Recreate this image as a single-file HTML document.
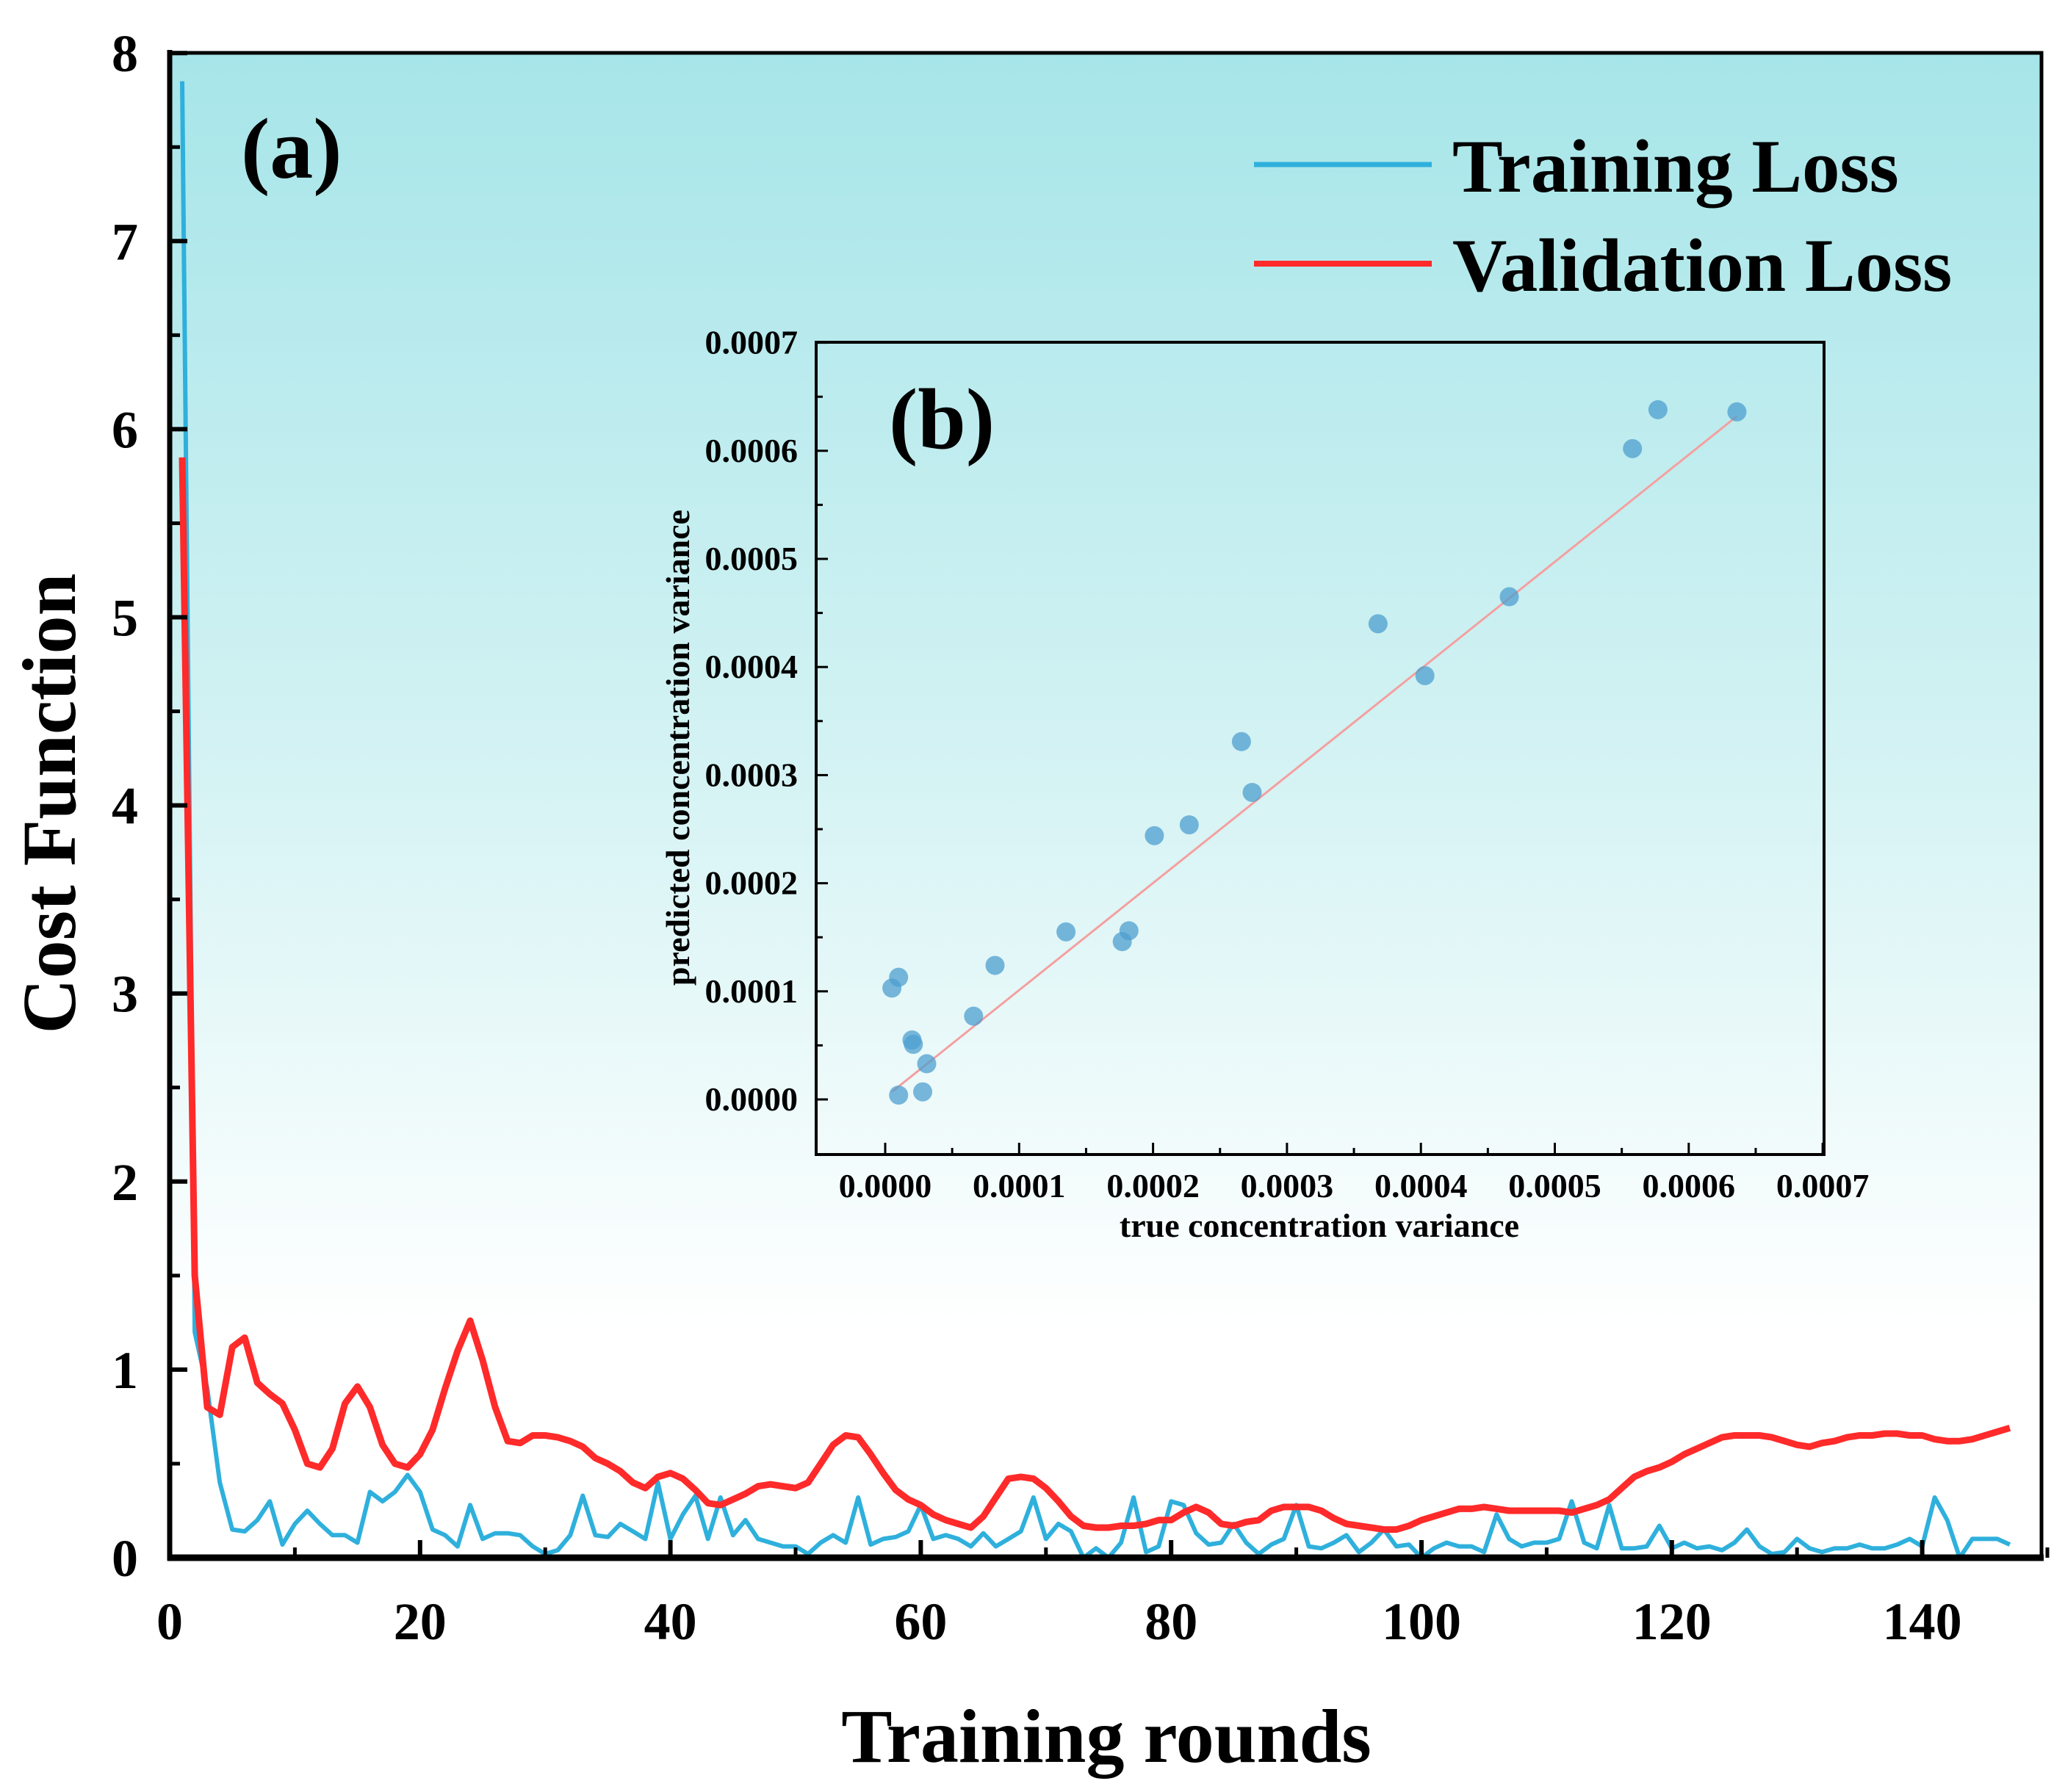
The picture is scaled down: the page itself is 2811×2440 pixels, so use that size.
<!DOCTYPE html>
<html><head><meta charset="utf-8"><style>
html,body{margin:0;padding:0;background:#fff;}
svg{display:block;font-family:"Liberation Serif",serif;font-weight:bold;}
</style></head><body>
<svg id="chart" width="2811" height="2440" viewBox="0 0 2811 2440" xmlns="http://www.w3.org/2000/svg">
<defs>
<linearGradient id="bg" x1="0" y1="0" x2="0" y2="1">
<stop offset="0" stop-color="#a6e5e9"/>
<stop offset="0.45" stop-color="#d2f2f3"/>
<stop offset="0.85" stop-color="#ffffff"/>
<stop offset="1" stop-color="#ffffff"/>
</linearGradient>
</defs>
<rect x="231" y="72" width="2548" height="2049" fill="url(#bg)"/>
<g id="main"></g>
<g id="inset"></g>
</svg>
<script>
const epochs = [];
for (let i = 1; i <= 147; i++) epochs.push(i);
const trainingLoss = [7.85,1.2,0.9,0.4,0.15,0.14,0.2,0.3,0.07,0.18,0.25,0.18,0.12,0.12,0.08,0.35,0.3,0.35,0.44,0.35,0.15,0.12,0.06,0.28,0.1,0.13,0.13,0.12,0.06,0.02,0.04,0.12,0.33,0.12,0.11,0.18,0.14,0.1,0.4,0.1,0.23,0.33,0.1,0.32,0.12,0.2,0.1,0.08,0.06,0.06,0.02,0.08,0.12,0.08,0.32,0.07,0.1,0.11,0.14,0.28,0.1,0.12,0.1,0.06,0.13,0.06,0.1,0.14,0.32,0.1,0.18,0.14,0.0,0.05,0.0,0.08,0.32,0.03,0.06,0.3,0.28,0.13,0.07,0.08,0.18,0.08,0.02,0.07,0.1,0.28,0.06,0.05,0.08,0.12,0.03,0.08,0.15,0.06,0.07,0.0,0.05,0.08,0.06,0.06,0.03,0.23,0.1,0.06,0.08,0.08,0.1,0.3,0.08,0.05,0.28,0.05,0.05,0.06,0.17,0.05,0.08,0.05,0.06,0.04,0.08,0.15,0.06,0.02,0.03,0.1,0.05,0.03,0.05,0.05,0.07,0.05,0.05,0.07,0.1,0.06,0.32,0.2,0.0,0.1,0.1,0.1,0.07];
const validationLoss = [5.85,1.5,0.8,0.76,1.12,1.17,0.93,0.87,0.82,0.68,0.5,0.48,0.58,0.82,0.91,0.8,0.6,0.5,0.48,0.55,0.68,0.9,1.1,1.26,1.05,0.8,0.62,0.61,0.65,0.65,0.64,0.62,0.59,0.53,0.5,0.46,0.4,0.37,0.43,0.45,0.42,0.36,0.29,0.28,0.31,0.34,0.38,0.39,0.38,0.37,0.4,0.5,0.6,0.65,0.64,0.55,0.45,0.36,0.31,0.28,0.23,0.2,0.18,0.16,0.22,0.32,0.42,0.43,0.42,0.37,0.3,0.22,0.17,0.16,0.16,0.17,0.17,0.18,0.2,0.2,0.24,0.27,0.24,0.18,0.17,0.19,0.2,0.25,0.27,0.27,0.27,0.25,0.21,0.18,0.17,0.16,0.15,0.15,0.17,0.2,0.22,0.24,0.26,0.26,0.27,0.26,0.25,0.25,0.25,0.25,0.25,0.24,0.26,0.28,0.31,0.37,0.43,0.46,0.48,0.51,0.55,0.58,0.61,0.64,0.65,0.65,0.65,0.64,0.62,0.6,0.59,0.61,0.62,0.64,0.65,0.65,0.66,0.66,0.65,0.65,0.63,0.62,0.62,0.63,0.65,0.67,0.69];
const xTickLabels = ["0","20","40","60","80","100","120","140"];
const yTickLabels = ["0","1","2","3","4","5","6","7","8"];
const trueVar = [0.000005,0.00001,0.00002,0.000021,0.000031,0.00001,0.000028,0.000066,0.000082,0.000135,0.000177,0.000182,0.000201,0.000227,0.000266,0.000274,0.000368,0.000403,0.000466,0.000558,0.000577,0.000636];
const predVar = [0.000103,0.000113,0.000055,0.000051,0.000033,0.000004,0.000007,0.000077,0.000124,0.000155,0.000146,0.000156,0.000244,0.000254,0.000331,0.000284,0.00044,0.000392,0.000465,0.000602,0.000638,0.000636];
const fitX = [0.000005,0.000636];
const fitY = [0.000007,0.000632];
const insetTickLabels = ["0.0000","0.0001","0.0002","0.0003","0.0004","0.0005","0.0006","0.0007"];

const NS = "http://www.w3.org/2000/svg";
function mk(parent, tag, attrs, text) {
  const e = document.createElementNS(NS, tag);
  for (const k in attrs) e.setAttribute(k, attrs[k]);
  if (text !== undefined) e.textContent = text;
  parent.appendChild(e);
  return e;
}
const X = v => 231 + v * 17.04;
const Y = v => 2121 - v * 256.1;
const main = document.getElementById('main');

function series(data, color, name, w) {
  const d = data.map((v, i) => (i ? 'L' : 'M') + X(epochs[i]).toFixed(1) + ' ' + Y(v).toFixed(1)).join(' ');
  const p = mk(main, 'path', {d: d, fill: 'none', stroke: color, 'stroke-width': w, 'stroke-linejoin': 'round'});
  
  
}
series(trainingLoss, '#2fb0dc', 'training-loss-line', 6);
series(validationLoss, '#ff2a2a', 'validation-loss-line', 9);

let fr = mk(main, 'rect', {x: 231, y: 72, width: 2548, height: 2049, fill: 'none', stroke: '#000', 'stroke-width': 5});


mk(main, 'line', {x1: 228, y1: 2121, x2: 2782, y2: 2121, stroke: '#000', 'stroke-width': 9});
mk(main, 'line', {x1: 231, y1: 68, x2: 231, y2: 2125, stroke: '#000', 'stroke-width': 7});

yTickLabels.forEach((t, i) => {
  const v = +t;
  mk(main, 'line', {x1: 231, y1: Y(v), x2: 255, y2: Y(v), stroke: '#000', 'stroke-width': 6});
  if (i < yTickLabels.length - 1) mk(main, 'line', {x1: 231, y1: Y(v + 0.5), x2: 245, y2: Y(v + 0.5), stroke: '#000', 'stroke-width': 5});
  const tx = mk(main, 'text', {x: 188, y: Y(v) + 25, 'font-size': 72, 'text-anchor': 'end'}, t);
  
  
});
xTickLabels.forEach((t, i) => {
  const v = +t;
  mk(main, 'line', {x1: X(v), y1: 2121, x2: X(v), y2: 2097, stroke: '#000', 'stroke-width': 6});
  mk(main, 'line', {x1: X(v + 10), y1: 2121, x2: X(v + 10), y2: 2107, stroke: '#000', 'stroke-width': 5});
  const tx = mk(main, 'text', {x: X(v), y: 2232, 'font-size': 72, 'text-anchor': 'middle'}, t);
  
  
});
let t;
t = mk(main, 'text', {x: 1506, y: 2399, 'font-size': 104, 'text-anchor': 'middle'}, 'Training rounds');
 
t = mk(main, 'text', {x: 0, y: 0, 'font-size': 104, 'text-anchor': 'middle', transform: 'translate(102,1094) rotate(-90)'}, 'Cost Function');
 
t = mk(main, 'text', {x: 328, y: 242, 'font-size': 118}, '(a)');
 
let l;
l = mk(main, 'line', {x1: 1707, y1: 224, x2: 1949, y2: 224, stroke: '#2fb0dc', 'stroke-width': 7});
 
t = mk(main, 'text', {x: 1977, y: 261, 'font-size': 103}, 'Training Loss');
 
l = mk(main, 'line', {x1: 1707, y1: 359, x2: 1949, y2: 359, stroke: '#ff2a2a', 'stroke-width': 8});
 
t = mk(main, 'text', {x: 1977, y: 396, 'font-size': 103}, 'Validation Loss');
 

const ins = document.getElementById('inset');
const IX = v => 1205 + v * 1823000;
const IY = v => 1497 - v * 1472000;
const ib = mk(ins, 'rect', {x: 1111, y: 466, width: 1372, height: 1106, fill: 'none', stroke: '#000', 'stroke-width': 4});
 
insetTickLabels.forEach((s, i) => {
  const v = +s;
  mk(ins, 'line', {x1: IX(v), y1: 1572, x2: IX(v), y2: 1556, stroke: '#000', 'stroke-width': 3});
  if (i < 7) mk(ins, 'line', {x1: IX(v + 0.00005), y1: 1572, x2: IX(v + 0.00005), y2: 1563, stroke: '#000', 'stroke-width': 3});
  const a = mk(ins, 'text', {x: IX(v), y: 1630, 'font-size': 46, 'text-anchor': 'middle'}, s);
   
  mk(ins, 'line', {x1: 1111, y1: IY(v), x2: 1127, y2: IY(v), stroke: '#000', 'stroke-width': 3});
  if (i < 7) mk(ins, 'line', {x1: 1111, y1: IY(v + 0.00005), x2: 1120, y2: IY(v + 0.00005), stroke: '#000', 'stroke-width': 3});
  const b = mk(ins, 'text', {x: 1086, y: IY(v) + 15, 'font-size': 46, 'text-anchor': 'end'}, s);
   
});
const fl = mk(ins, 'line', {x1: IX(fitX[0]), y1: IY(fitY[0]), x2: IX(fitX[1]), y2: IY(fitY[1]), stroke: '#f4a0a0', 'stroke-width': 3});
 
trueVar.forEach((v, i) => {
  const c = mk(ins, 'circle', {cx: IX(v), cy: IY(predVar[i]), r: 13, fill: '#4e9fcf', 'fill-opacity': 0.75});
  
  
});
t = mk(ins, 'text', {x: 1796, y: 1684, 'font-size': 46, 'text-anchor': 'middle'}, 'true concentration variance');
 
t = mk(ins, 'text', {x: 0, y: 0, 'font-size': 46, 'text-anchor': 'middle', transform: 'translate(938,1018) rotate(-90)'}, 'predicted concentration variance');
 
t = mk(ins, 'text', {x: 1210, y: 610, 'font-size': 118}, '(b)');
 
</script>
</body></html>
